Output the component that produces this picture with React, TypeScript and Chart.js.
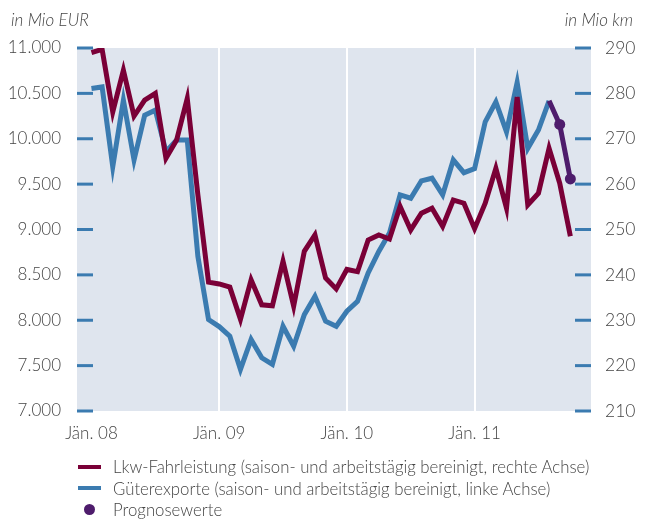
import React, { useEffect, useRef } from "react";
import { Chart, registerables } from "chart.js";

Chart.register(...registerables);

// ---- data ----
// monthly values, index 0 = Jän. 08
const X_TICK_POSITIONS = [0, 12, 24, 36];
const X_TICK_LABELS = ["Jän. 08", "Jän. 09", "Jän. 10", "Jän. 11"];

// Lkw-Fahrleistung, in Mio km (right axis), Jän. 08 .. Okt. 11
const LKW = [
  289.0, 289.7, 275.9, 285.1, 275.0, 278.5, 280.0, 265.7, 269.7, 278.9, 257.6, 238.4,
  238.0, 237.3, 230.2, 238.9, 233.4, 233.2, 243.0, 233.1, 245.2, 248.8, 239.3, 236.9,
  241.2, 240.7, 247.7, 248.8, 247.9, 255.1, 249.9, 253.6, 254.7, 250.7, 256.5, 255.8,
  250.2, 255.8, 263.5, 254.7, 279.2, 255.4, 258.0, 267.9, 260.2, 248.5,
];

// Güterexporte, in Mio EUR (left axis), Jän. 08 .. Aug. 11
const GUETER = [
  10554, 10571, 9692, 10425, 9766, 10260, 10315, 9857, 9986, 9986, 8703, 8007,
  7930, 7824, 7458, 7788, 7586, 7513, 7934, 7714, 8062, 8263, 7989, 7934,
  8099, 8209, 8521, 8758, 8960, 9381, 9345, 9535, 9565, 9381, 9766, 9626,
  9670, 10187, 10407, 10077, 10620, 9894, 10096, 10418,
];

// Prognosewerte for Güterexporte, starting at the last actual value (Aug. 11)
const PROGNOSE_START_INDEX = 43;
const PROGNOSE = [10418, 10158, 9557];

const LEFT_MIN = 7000;
const LEFT_MAX = 11000;
const LEFT_STEP = 500;
const RIGHT_MIN = 210;
const RIGHT_MAX = 290;
const RIGHT_STEP = 10;

const LEGEND_LABELS = [
  "Lkw-Fahrleistung (saison- und arbeitstägig bereinigt, rechte Achse)",
  "Güterexporte (saison- und arbeitstägig bereinigt, linke Achse)",
  "Prognosewerte",
];

const LEFT_TITLE = "in Mio EUR";
const RIGHT_TITLE = "in Mio km";

// ---- styles ----
const RED = "#7a0037";
const BLUE = "#3b7bb0";
const PURPLE = "#4e1c6c";
const BG = "#dfe5ee";
const TEXT = "#454545";
const FONT = "Lato";

const fmtThousands = (v: number) =>
  String(Math.round(v)).replace(/\B(?=(\d{3})+(?!\d))/g, ".");

const plotDecor = {
  id: "plotDecor",
  beforeDraw(chart: any) {
    const { ctx, chartArea } = chart;
    ctx.save();
    ctx.fillStyle = BG;
    ctx.fillRect(chartArea.left, chartArea.top, chartArea.right - chartArea.left, chartArea.bottom - chartArea.top);
    ctx.restore();
  },
  beforeDatasetsDraw(chart: any) {
    const { ctx, chartArea } = chart;
    const yl = chart.scales.y;
    const yr = chart.scales.y2;
    ctx.save();
    ctx.strokeStyle = BLUE;
    ctx.lineWidth = 3;
    yl.ticks.forEach((t: any) => {
      const y = yl.getPixelForValue(t.value);
      ctx.beginPath();
      ctx.moveTo(chartArea.left, y);
      ctx.lineTo(chartArea.left + 16, y);
      ctx.stroke();
    });
    yr.ticks.forEach((t: any) => {
      const y = yr.getPixelForValue(t.value);
      ctx.beginPath();
      ctx.moveTo(chartArea.right - 16, y);
      ctx.lineTo(chartArea.right, y);
      ctx.stroke();
    });
    ctx.restore();
  },
  afterDraw(chart: any) {
    const { ctx } = chart;
    ctx.save();
    ctx.fillStyle = TEXT;
    ctx.font = `italic 300 17px ${FONT}`;
    ctx.textBaseline = "alphabetic";
    ctx.textAlign = "left";
    ctx.fillText(LEFT_TITLE, 11, 26);
    ctx.textAlign = "right";
    ctx.fillText(RIGHT_TITLE, chart.width - 12, 26);
    ctx.restore();
  },
};

export default function App() {
  const ref = useRef<HTMLCanvasElement | null>(null);

  useEffect(() => {
    if (!ref.current) return;
    const chart = new Chart(ref.current, {
      type: "line",
      data: {
        datasets: [
          {
            label: LEGEND_LABELS[2],
            data: PROGNOSE.map((v, k) => ({ x: PROGNOSE_START_INDEX + k, y: v })),
            yAxisID: "y",
            borderColor: PURPLE,
            backgroundColor: PURPLE,
            borderWidth: 5,
            pointRadius: (c: any) => (c.dataIndex === 0 ? 0 : 5.5),
            pointBorderWidth: 0,
            tension: 0,
          },
          {
            label: LEGEND_LABELS[0],
            data: LKW.map((v, i) => ({ x: i, y: v })),
            yAxisID: "y2",
            borderColor: RED,
            backgroundColor: RED,
            borderWidth: 5,
            pointRadius: 0,
            tension: 0,
          },
          {
            label: LEGEND_LABELS[1],
            data: GUETER.map((v, i) => ({ x: i, y: v })),
            yAxisID: "y",
            borderColor: BLUE,
            backgroundColor: BLUE,
            borderWidth: 5,
            pointRadius: 0,
            tension: 0,
          },
        ],
      },
      options: {
        animation: false,
        responsive: false,
        maintainAspectRatio: false,
        layout: { padding: { top: 48, left: 0, right: 0, bottom: 0 } },
        plugins: {
          legend: { display: false },
          tooltip: { enabled: false },
          title: { display: false },
        },
        scales: {
          x: {
            type: "linear",
            min: -1.36,
            max: 46.94,
            border: { display: false },
            grid: {
              drawTicks: false,
              lineWidth: 2,
              color: (c: any) => (c.tick && c.tick.value === X_TICK_POSITIONS[0] ? "rgba(0,0,0,0)" : "#ffffff"),
            },
            afterBuildTicks: (s: any) => {
              s.ticks = X_TICK_POSITIONS.map((v) => ({ value: v }));
            },
            afterFit: (s: any) => {
              s.height = 109;
            },
            ticks: {
              autoSkip: false,
              maxRotation: 0,
              padding: 12,
              color: TEXT,
              font: { family: FONT, size: 17, weight: "300" },
              callback: (v: any) => {
                const idx = X_TICK_POSITIONS.indexOf(Number(v));
                return idx >= 0 ? X_TICK_LABELS[idx] : "";
              },
            },
          },
          y: {
            position: "left",
            min: LEFT_MIN,
            max: LEFT_MAX,
            border: { display: false },
            grid: { display: false, drawTicks: false },
            afterFit: (s: any) => {
              s.width = 77;
            },
            ticks: {
              stepSize: LEFT_STEP,
              padding: 16,
              color: TEXT,
              font: { family: FONT, size: 17, weight: "300" },
              callback: (v: any) => fmtThousands(Number(v)),
            },
          },
          y2: {
            position: "right",
            min: RIGHT_MIN,
            max: RIGHT_MAX,
            border: { display: false },
            grid: { display: false, drawTicks: false },
            afterFit: (s: any) => {
              s.width = 54;
            },
            ticks: {
              stepSize: RIGHT_STEP,
              padding: 14,
              color: TEXT,
              font: { family: FONT, size: 17.5, weight: "300" },
            },
          },
        },
      },
      plugins: [plotDecor],
    } as any);
    return () => chart.destroy();
  }, []);

  const legendColors = [RED, BLUE, PURPLE];

  return (
    <div style={{ position: "absolute", left: 0, top: 0, width: 645, height: 520, background: "#fff" }}>
      <canvas ref={ref} width={645} height={520} style={{ display: "block", width: 645, height: 520 }} />
      <div
        style={{
          position: "absolute",
          left: 78,
          top: 456,
          fontFamily: FONT,
          fontWeight: 300,
          fontSize: 16.8,
          color: TEXT,
        }}
      >
        {LEGEND_LABELS.map((label, i) => (
          <div key={label} style={{ display: "flex", alignItems: "center", height: 21.5, whiteSpace: "nowrap" }}>
            <div style={{ width: 23, display: "flex", justifyContent: "center", marginRight: 12 }}>
              {i < 2 ? (
                <div style={{ width: 23, height: 4, background: legendColors[i] }} />
              ) : (
                <div style={{ width: 11, height: 11, borderRadius: "50%", background: legendColors[i] }} />
              )}
            </div>
            <span>{label}</span>
          </div>
        ))}
      </div>
    </div>
  );
}
